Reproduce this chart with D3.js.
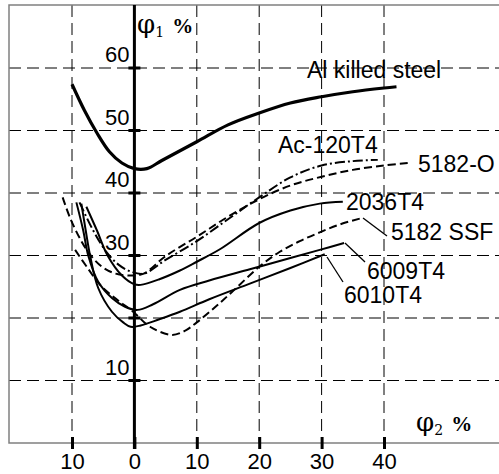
<!DOCTYPE html>
<html>
<head>
<meta charset="utf-8">
<script src="https://cdn.jsdelivr.net/npm/d3@7"></script>
<style>
  body { margin: 0; background: #fff; }
  text { font-family: "Liberation Sans", Arial, sans-serif; fill: #000; }
  .serif { font-family: "DejaVu Serif", "Liberation Serif", serif; }
</style>
</head>
<body>
<div id="chart"></div>
<script>
//TICKS AND LABELS
var xTicks = [-10, 0, 10, 20, 30, 40];
var xTickLabels = ["10", "0", "10", "20", "30", "40"];
var yTicks = [10, 20, 30, 40, 50, 60];
var yLabelValues = [10, 30, 40, 50, 60];

//SERIES, [phi2, phi1] pairs
var alKilledSteel = [[-10,57.4],[-8,53.2],[-6,49.6],[-4,46.6],[-2,44.8],[0,43.9],[2,43.9],[4.4,45.2],[10,48.2],[15,50.9],[20,52.8],[25,54.4],[30,55.4],[35,56.2],[40,56.8],[42,57]];
var ac120T4 = [[-8.8,38.5],[-6.6,34],[-4.5,30.6],[-2.5,28.5],[-0.5,27.4],[1.5,27.1],[5,29.3],[10,32.3],[15,35.8],[20,39.3],[25,42.5],[30,44.4],[35,45.1],[39,45.3]];
var a5182O = [[-11.5,39.3],[-10.3,36],[-8.5,32.3],[-7,30],[-5.2,28.2],[-3,27.1],[-0.5,26.8],[1.5,27.1],[5,29.9],[10,33],[15,36.2],[20,39],[25,41.2],[30,42.6],[35,43.7],[40,44.4],[43.8,44.8]];
var a2036T4 = [[-7.7,37.8],[-6,34],[-4.3,30],[-2,26.8],[0,25.4],[1,25.3],[4,26.2],[7.3,27.6],[10,29],[13.7,31],[20,35.2],[25,37.2],[29.7,38.3],[33.4,38.6]];
var a5182SSF = [[-9.5,30.9],[-7.5,28],[-5.5,25.3],[-3,23.1],[-0.2,21],[2.5,18.6],[6,17.3],[8,17.9],[10,19.3],[13,21.8],[16,24.5],[20,28.2],[23.3,30.6],[26.5,32.3],[29.7,33.7],[33,35],[36.5,36]];
var a6009T4 = [[-9.3,38.5],[-8.2,34],[-7.4,30],[-5.8,25.8],[-3.6,23.2],[-1.5,21.8],[0.5,21.3],[3,22.2],[7.3,24.5],[12,26],[18.5,27.8],[25,29.6],[29.7,30.9],[33.6,32]];
var a6010T4 = [[-8.5,38.3],[-7.8,34],[-7.1,30],[-5.8,24.8],[-3.6,21],[-1.8,19.3],[-0.6,18.6],[1,18.8],[4,19.8],[7.3,21],[12,23],[18.5,25.5],[25,28],[30.5,30.2]];

var series = [
  {name: "Al killed steel", data: alKilledSteel, width: 3.2, dash: null},
  {name: "Ac-120T4", data: ac120T4, width: 2, dash: "10,3,2,3"},
  {name: "5182-O", data: a5182O, width: 2, dash: "8,4"},
  {name: "2036T4", data: a2036T4, width: 2, dash: null},
  {name: "5182 SSF", data: a5182SSF, width: 2, dash: "8,4"},
  {name: "6009T4", data: a6009T4, width: 2, dash: null},
  {name: "6010T4", data: a6010T4, width: 2, dash: null}
];

//CURVE LABELS (text position in px, optional leader line)
var curveLabels = [
  {text: "Al killed steel", x: 307, y: 78},
  {text: "Ac-120T4", x: 278, y: 153},
  {text: "5182-O", x: 418, y: 172},
  {text: "2036T4", x: 346, y: 210},
  {text: "5182 SSF", x: 391, y: 240, lead: [363, 218, 387, 236]},
  {text: "6009T4", x: 367, y: 279, lead: [345, 243, 365, 262]},
  {text: "6010T4", x: 344, y: 303, lead: [327, 257, 343, 282]}
];

var W = 499, H = 474;
var frame = {left: 9, top: 5, right: 499, bottom: 443};

var svg = d3.select("#chart").append("svg")
  .attr("width", W)
  .attr("height", H);

var x = d3.scaleLinear().domain([-10, 40]).range([72, 384]);
var y = d3.scaleLinear().domain([0, 60]).range([frame.bottom, 68]);

//GRID
svg.append("g").selectAll("line")
  .data(yTicks)
  .enter().append("line")
  .attr("x1", frame.left).attr("x2", frame.right)
  .attr("y1", function(d) { return y(d); })
  .attr("y2", function(d) { return y(d); })
  .attr("stroke", "#000").attr("stroke-width", 1)
  .attr("stroke-dasharray", "12,6");

svg.append("g").selectAll("line")
  .data(xTicks.filter(function(d) { return d !== 0; }))
  .enter().append("line")
  .attr("x1", function(d) { return x(d); })
  .attr("x2", function(d) { return x(d); })
  .attr("y1", frame.top).attr("y2", frame.bottom)
  .attr("stroke", "#000").attr("stroke-width", 1)
  .attr("stroke-dasharray", "12,6");

//FRAME
svg.append("path")
  .attr("d", `M${frame.right},${frame.top}H${frame.left}V${frame.bottom}H${frame.right}`)
  .attr("fill", "none")
  .attr("stroke", "#808080")
  .attr("stroke-width", 1.5);

//VERTICAL AXIS AT phi2 = 0
svg.append("line")
  .attr("x1", x(0)).attr("x2", x(0))
  .attr("y1", frame.top).attr("y2", frame.bottom + 6)
  .attr("stroke", "#000").attr("stroke-width", 3);

//X AXIS
var xAxis = d3.axisBottom(x)
  .tickValues(xTicks)
  .tickSize(12)
  .tickPadding(4)
  .tickFormat(function(d, i) { return xTickLabels[i]; });

var gx = svg.append("g")
  .attr("transform", `translate(0, ${frame.bottom - 6})`)
  .call(xAxis);
gx.select(".domain").remove();
gx.selectAll(".tick line").attr("stroke", "#000").attr("stroke-width", 3);
gx.selectAll(".tick text")
  .attr("font-size", 22)
  .attr("font-family", "Liberation Sans, Arial, sans-serif")
  .attr("fill", "#000");

//Y TICKS
svg.append("g").selectAll("line")
  .data(yTicks)
  .enter().append("line")
  .attr("x1", x(0) - 6).attr("x2", x(0) + 6)
  .attr("y1", function(d) { return y(d); })
  .attr("y2", function(d) { return y(d); })
  .attr("stroke", "#000").attr("stroke-width", 3);

svg.append("g").selectAll("text")
  .data(yLabelValues)
  .enter().append("text")
  .attr("x", x(0) - 5)
  .attr("y", function(d) { return y(d) - 6; })
  .attr("text-anchor", "end")
  .attr("font-size", 22)
  .text(function(d) { return d; });

//CURVES
var line = d3.line()
  .x(function(d) { return x(d[0]); })
  .y(function(d) { return y(d[1]); })
  .curve(d3.curveCatmullRom.alpha(0.5));

svg.append("g").selectAll("path")
  .data(series)
  .enter().append("path")
  .attr("d", function(d) { return line(d.data); })
  .attr("fill", "none")
  .attr("stroke", "#000")
  .attr("stroke-width", function(d) { return d.width; })
  .attr("stroke-dasharray", function(d) { return d.dash; })
  .attr("stroke-linejoin", "round");

//CURVE LABELS
var lab = svg.append("g");
lab.selectAll("text")
  .data(curveLabels)
  .enter().append("text")
  .attr("x", function(d) { return d.x; })
  .attr("y", function(d) { return d.y; })
  .attr("font-size", 23)
  .text(function(d) { return d.text; });

lab.selectAll("line")
  .data(curveLabels.filter(function(d) { return d.lead; }))
  .enter().append("line")
  .attr("x1", function(d) { return d.lead[0]; })
  .attr("y1", function(d) { return d.lead[1]; })
  .attr("x2", function(d) { return d.lead[2]; })
  .attr("y2", function(d) { return d.lead[3]; })
  .attr("stroke", "#000").attr("stroke-width", 1.3);

//AXIS TITLES
function axisTitle(px, py, sub) {
  var t = svg.append("text").attr("x", px).attr("y", py).attr("class", "serif");
  t.append("tspan").attr("font-size", 26).text("φ");
  t.append("tspan").attr("font-size", 14).attr("dy", 4).text(sub);
  t.append("tspan").attr("font-size", 21).attr("font-weight", "bold")
    .attr("font-family", "Liberation Serif, serif")
    .attr("dy", -4).attr("dx", 8).text("%");
}
axisTitle(137, 33, "1");
axisTitle(416, 431, "2");
</script>
</body>
</html>
